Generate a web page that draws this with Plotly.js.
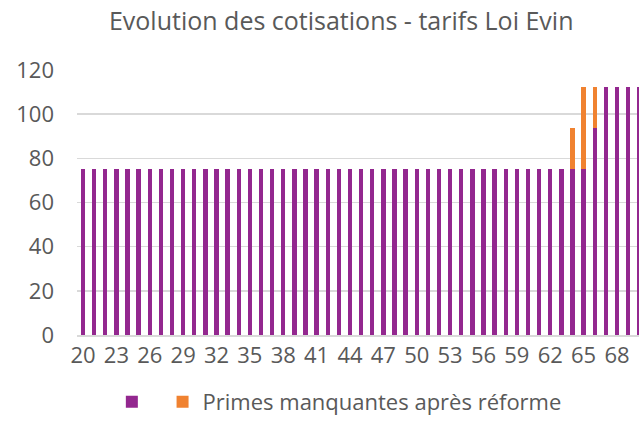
<!DOCTYPE html>
<html>
<head>
<meta charset="utf-8">
<script src="https://cdn.plot.ly/plotly-3.0.1.min.js"></script>
<style>
  html, body { margin: 0; padding: 0; background: #fff; }
  #chart { width: 639px; height: 428px; }
</style>
</head>
<body>
<div id="chart"></div>
<script>
// ages 20 -> 70
var ages = [];
for (var a = 20; a <= 70; a++) ages.push(a);

// cotisation actuelle (violet)
var cotisations = [
  75, 75, 75, 75, 75, 75, 75, 75, 75, 75,   // 20-29
  75, 75, 75, 75, 75, 75, 75, 75, 75, 75,   // 30-39
  75, 75, 75, 75, 75, 75, 75, 75, 75, 75,   // 40-49
  75, 75, 75, 75, 75, 75, 75, 75, 75, 75,   // 50-59
  75, 75, 75, 75, 75, 75, 93.75, 112.5, 112.5, 112.5, // 60-69
  112.5                                     // 70
];

// primes manquantes (orange)
var manquantes = [
  0, 0, 0, 0, 0, 0, 0, 0, 0, 0,
  0, 0, 0, 0, 0, 0, 0, 0, 0, 0,
  0, 0, 0, 0, 0, 0, 0, 0, 0, 0,
  0, 0, 0, 0, 0, 0, 0, 0, 0, 0,
  0, 0, 0, 0, 18.75, 37.5, 18.75, 0, 0, 0,
  0
];

var grey = '#595959';

var data = [
  {
    x: ages,
    y: cotisations,
    type: 'bar',
    name: '\u00a0',
    marker: {color: '#93278F'},
    hoverinfo: 'x+y'
  },
  {
    x: ages,
    y: manquantes,
    type: 'bar',
    name: 'Primes manquantes après réforme',
    marker: {color: '#F08230'},
    hoverinfo: 'x+y'
  }
];

var layout = {
  width: 639,
  height: 428,
  barmode: 'stack',
  bargap: 0.6,
  margin: {l: 77, r: 0, t: 70, b: 93},
  paper_bgcolor: '#fff',
  plot_bgcolor: '#fff',
  font: {family: 'Open Sans, sans-serif', color: grey, size: 22},
  title: {
    text: 'Evolution des cotisations - tarifs Loi Evin',
    font: {size: 25, color: grey},
    x: 0.534,
    xanchor: 'center',
    y: 0.95,
    yanchor: 'middle'
  },
  xaxis: {
    range: [19.46, 69.98],
    tick0: 20,
    dtick: 3,
    showgrid: false,
    showline: true,
    linecolor: '#d9d9d9',
    linewidth: 1.5,
    ticks: '',
    tickfont: {size: 22, color: grey},
    fixedrange: true
  },
  yaxis: {
    range: [0, 120],
    dtick: 20,
    showgrid: true,
    gridcolor: '#d9d9d9',
    gridwidth: 1.5,
    zeroline: false,
    ticks: '',
    ticklabelstandoff: 22,
    tickfont: {size: 22, color: grey},
    fixedrange: true
  },
  legend: {
    orientation: 'h',
    x: 0.062,
    xanchor: 'left',
    y: -0.253,
    yanchor: 'middle',
    font: {size: 22, color: grey},
    traceorder: 'normal'
  },
  showlegend: true
};

Plotly.newPlot('chart', data, layout, {displayModeBar: false, staticPlot: true});
</script>
</body>
</html>
